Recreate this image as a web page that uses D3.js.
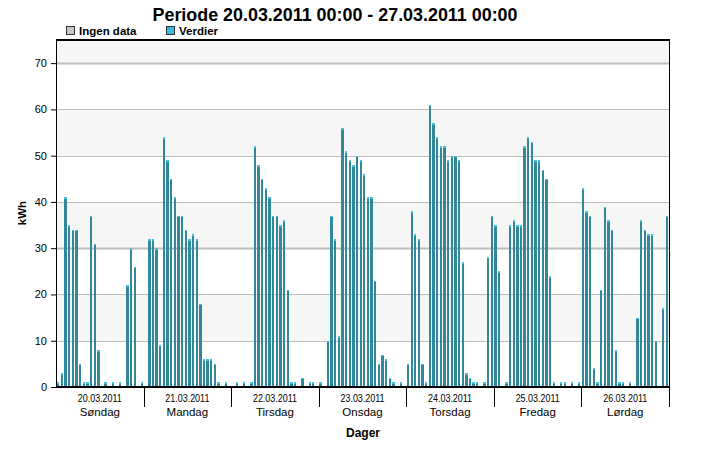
<!DOCTYPE html>
<html><head><meta charset="utf-8">
<script src="https://cdn.jsdelivr.net/npm/d3@7"></script>
<style>
html,body{margin:0;padding:0;background:#fff;}
svg{display:block;font-family:"Liberation Sans",Arial,sans-serif;}
</style></head>
<body><svg id="c" width="720" height="450"></svg>
<script>
// ---- data ----
const dates = ["20.03.2011","21.03.2011","22.03.2011","23.03.2011","24.03.2011","25.03.2011","26.03.2011"];
const dayNames = ["Søndag","Mandag","Tirsdag","Onsdag","Torsdag","Fredag","Lørdag"];
const sondag  = [1,3,41,35,34,34,5,1,1,37,31,8,0,1,0,1,0,1,0,22,30,26,0,1];
const mandag  = [0,32,32,30,9,54,49,45,41,37,37,34,32,33,32,18,6,6,6,5,1,0,1,0];
const tirsdag = [0,1,0,1,0,1,52,48,45,43,41,37,37,35,36,21,1,1,0,2,0,1,1,0];
const onsdag  = [1,0,10,37,32,11,56,51,49,48,50,49,46,41,41,23,5,7,6,2,1,0,1,0];
const torsdag = [5,38,33,32,5,1,61,57,54,52,52,49,50,50,49,27,3,2,1,1,0,1,28,37];
const fredag  = [35,25,0,1,35,36,35,35,52,54,53,49,49,47,45,24,1,0,1,1,0,1,0,1];
const lordag  = [43,38,37,4,1,21,39,36,34,8,1,1,0,1,0,15,36,34,33,33,10,0,17,37];
const yTicks = [0,10,20,30,40,50,60,70];
const legendItems = ["Ingen data","Verdier"];
const title = "Periode 20.03.2011 00:00 - 27.03.2011 00:00";

const values = [].concat(sondag,mandag,tirsdag,onsdag,torsdag,fredag,lordag);
const hours = values.map((v,i)=>({h:i,v:v}));

// ---- layout ----
const L=56, R=669, T=40, B=387;
const svg = d3.select("#c");

const x = d3.scaleBand().domain(d3.range(values.length)).range([L,R]).paddingInner(0.36).paddingOuter(0.3);
const xDay = d3.scaleLinear().domain([0,dates.length]).range([L,R]);
const y = d3.scaleLinear().domain([0,75]).range([B,T]);

// bands
const bands = [[10,20],[30,40],[50,60],[70,75]];
svg.append("g").selectAll("rect").data(bands).join("rect")
  .attr("x",L).attr("width",R-L)
  .attr("y",d=>y(d[1])).attr("height",d=>y(d[0])-y(d[1]))
  .attr("fill","#f6f6f6");

// grid
svg.append("g").selectAll("line").data(yTicks.filter(t=>t>0)).join("line")
  .attr("x1",L).attr("x2",R)
  .attr("y1",d=>Math.round(y(d))+0.5).attr("y2",d=>Math.round(y(d))+0.5)
  .attr("stroke","#bdbdbd")
  .attr("stroke-width",d=>(d===30||d===70)?2:1);

// bars
const bars = svg.append("g").attr("shape-rendering","crispEdges");
bars.selectAll("rect.b").data(hours.filter(d=>d.v>0)).join("rect").attr("class","b")
  .attr("x",d=>x(d.h)).attr("width",x.bandwidth())
  .attr("y",d=>y(d.v)).attr("height",d=>B-y(d.v))
  .attr("fill","#31889a");
bars.selectAll("rect.c").data(hours.filter(d=>d.v>0)).join("rect").attr("class","c")
  .attr("x",d=>x(d.h)).attr("width",x.bandwidth())
  .attr("y",d=>y(d.v)).attr("height",1.6)
  .attr("fill","#45c3dd");

// frame
const frame = svg.append("g").attr("shape-rendering","crispEdges");
frame.append("line").attr("x1",L).attr("x2",R+1).attr("y1",T).attr("y2",T).attr("stroke","#000").attr("stroke-width",2);
frame.append("line").attr("x1",R+0.5).attr("x2",R+0.5).attr("y1",T).attr("y2",B).attr("stroke","#000").attr("stroke-width",1);
frame.append("line").attr("x1",L).attr("x2",L).attr("y1",T).attr("y2",B).attr("stroke","#000").attr("stroke-width",1);
frame.append("line").attr("x1",L).attr("x2",R+1).attr("y1",B).attr("y2",B).attr("stroke","#000").attr("stroke-width",1.5);

// y axis
const yAxis = d3.axisLeft(y).tickValues(yTicks).tickSize(5).tickPadding(4).tickFormat(d3.format("d"));
const ya = svg.append("g").attr("transform",`translate(${L},0)`).call(yAxis);
ya.select(".domain").remove();
ya.selectAll(".tick line").attr("stroke","#000");
ya.selectAll(".tick text").attr("font-size",11).attr("fill","#000").attr("font-family","Liberation Sans, Arial, sans-serif");

// x axis: day separators + labels
const xa = svg.append("g").attr("shape-rendering","crispEdges");
xa.selectAll("line").data(d3.range(1,dates.length+1)).join("line")
  .attr("x1",d=>xDay(d)+0.5).attr("x2",d=>xDay(d)+0.5).attr("y1",B).attr("y2",B+20)
  .attr("stroke","#000").attr("stroke-width",1);
svg.append("g").selectAll("text").data(dates).join("text")
  .attr("x",(d,i)=>xDay(i+0.5)).attr("y",B+15)
  .attr("text-anchor","middle").attr("font-size",11.5)
  .attr("textLength",44).attr("lengthAdjust","spacingAndGlyphs")
  .text(d=>d);
svg.append("g").selectAll("text").data(dayNames).join("text")
  .attr("x",(d,i)=>xDay(i+0.5)).attr("y",B+29)
  .attr("text-anchor","middle").attr("font-size",11.5)
  .text(d=>d);

// axis titles
svg.append("text").attr("x",363).attr("y",437).attr("text-anchor","middle")
  .attr("font-size",12).attr("font-weight","bold").text("Dager");
svg.append("text").attr("transform","translate(26,213) rotate(-90)").attr("text-anchor","middle")
  .attr("font-size",11.5).attr("font-weight","bold").text("kWh");

// title
svg.append("text").attr("x",335).attr("y",21).attr("text-anchor","middle")
  .attr("font-size",18).attr("font-weight","bold")
  .attr("textLength",365).attr("lengthAdjust","spacingAndGlyphs").text(title);

// legend
const legColors = ["#c8c8c8","#33bde3"];
const legX = [66,166];
const lg = svg.append("g");
legendItems.forEach((t,i)=>{
  lg.append("rect").attr("x",legX[i]+0.5).attr("y",26.5).attr("width",8).attr("height",8)
    .attr("fill",legColors[i]).attr("stroke","#333").attr("stroke-width",1);
  lg.append("text").attr("x",legX[i]+13).attr("y",35).attr("font-size",11.5).attr("font-weight","bold")
    .text(t);
});
</script></body></html>
